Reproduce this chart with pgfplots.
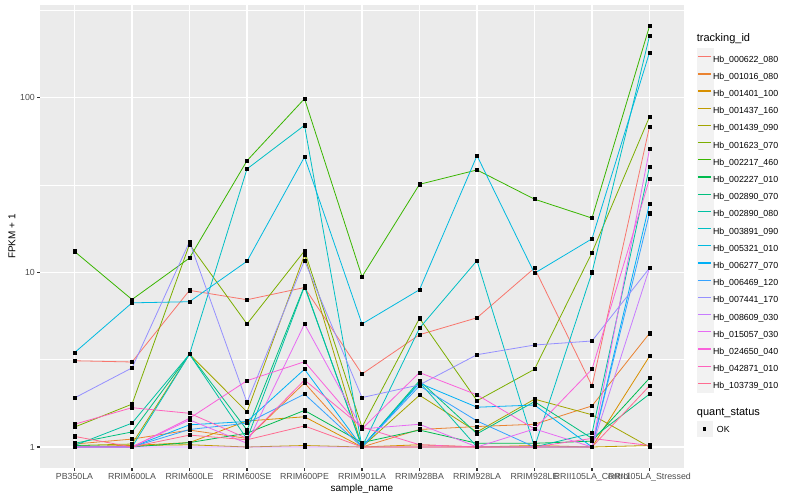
\documentclass[border=0pt]{standalone}
\usepackage{fontspec}
\setmainfont{Liberation Sans}
\usepackage{pgfplots}
\usepackage{pgfplotstable}
\pgfplotsset{compat=1.18}

% ggplot2 default hue palette, 20 levels
\definecolor{c01}{HTML}{F8766D}
\definecolor{c02}{HTML}{EA8331}
\definecolor{c03}{HTML}{D89000}
\definecolor{c04}{HTML}{C09B00}
\definecolor{c05}{HTML}{A3A500}
\definecolor{c06}{HTML}{7CAE00}
\definecolor{c07}{HTML}{39B600}
\definecolor{c08}{HTML}{00BB4E}
\definecolor{c09}{HTML}{00BF7D}
\definecolor{c10}{HTML}{00C1A3}
\definecolor{c11}{HTML}{00BFC4}
\definecolor{c12}{HTML}{00BAE0}
\definecolor{c13}{HTML}{00B0F6}
\definecolor{c14}{HTML}{35A2FF}
\definecolor{c15}{HTML}{9590FF}
\definecolor{c16}{HTML}{C77CFF}
\definecolor{c17}{HTML}{E76BF3}
\definecolor{c18}{HTML}{FA62DB}
\definecolor{c19}{HTML}{FF62BC}
\definecolor{c20}{HTML}{FF6C91}
\definecolor{panel}{HTML}{EBEBEB}
\definecolor{keybg}{HTML}{F2F2F2}
\definecolor{tickcol}{HTML}{333333}
\definecolor{labcol}{HTML}{4D4D4D}

\pgfplotsset{
  series/.style={color=#1, line width=0.8bp, mark=square*, mark size=1.6bp,
    mark options={fill=black, draw=black, solid}},
}

% FPKM + 1 per sample (rows) and tracking_id (columns s01..s20, legend order)
\pgfplotstableread{
idx s01 s02 s03 s04 s05 s06 s07 s08 s09 s10 s11 s12 s13 s14 s15 s16 s17 s18 s19 s20
0 3.12 1.04 1.00 1.00 1.02 1.30 13.2 1.02 1.05 1.02 1.00 3.47 1.00 1.00 1.91 1.00 1.00 1.00 1.35 1.15
1 3.07 1.11 1.02 1.02 1.04 1.76 7.00 1.00 1.22 1.37 1.00 6.70 1.00 1.00 2.84 1.00 1.00 1.00 1.68 1.00
2 7.90 1.25 1.06 1.03 3.40 14.5 12.1 1.06 3.40 3.40 3.40 6.80 1.34 1.26 15.0 1.00 1.43 1.46 1.56 1.17
3 6.98 1.12 1.41 1.00 1.59 5.07 43.7 1.20 1.25 1.11 39.2 11.6 1.40 1.37 1.80 1.00 1.05 2.40 1.12 1.10
4 8.20 2.33 1.49 1.02 12.6 13.3 99.0 1.62 8.40 8.30 69.7 45.9 2.79 2.01 11.7 1.00 5.07 3.08 2.42 1.32
5 2.62 1.00 1.00 1.00 1.00 1.30 9.46 1.06 1.00 1.00 1.00 5.07 1.00 1.00 1.92 1.00 1.27 1.27 1.30 1.00
6 4.40 1.26 1.03 1.00 1.98 5.46 32.0 1.25 2.40 2.35 4.80 7.97 2.32 2.24 2.27 1.00 1.35 2.67 1.03 1.00
7 5.50 1.31 1.00 1.00 1.22 1.84 38.7 1.05 1.19 1.00 11.7 46.7 1.69 1.41 3.38 1.00 1.00 1.99 1.00 1.00
8 10.6 1.35 1.02 1.00 1.88 2.79 26.3 1.05 1.82 1.00 1.00 9.90 1.74 1.00 3.84 1.00 1.27 1.27 1.00 1.00
9 2.24 1.72 1.00 1.00 1.53 13.0 20.5 1.08 1.12 1.20 10.0 15.6 1.00 1.00 4.05 1.00 1.00 2.79 1.12 1.00
10 68.5 4.48 3.31 1.02 1.00 78.0 258 2.48 2.01 40.4 226 182 24.8 21.8 10.6 10.6 50.8 34.3 1.02 2.24
}\fpkm

\begin{document}
\begin{tikzpicture}
\useasboundingbox (0,0) rectangle (800bp,500bp);
\begin{axis}[
  at={(40bp,32bp)}, anchor=south west,
  width=644bp, height=463bp, scale only axis,
  xmin=-0.6, xmax=10.6,
  ymode=log, log basis y=10, ymin=0.758, ymax=341,
  axis background/.style={fill=panel},
  axis line style={draw=none},
  grid=major, major grid style={white, line width=1.07bp},
  tick pos=left, tick align=outside, major tick length=2.75bp,
  tick style={tickcol, line width=1.07bp},
  xtick={0,...,10},
  xticklabels={PB350LA,RRIM600LA,RRIM600LE,RRIM600SE,RRIM600PE,RRIM901LA,RRIM928BA,RRIM928LA,RRIM928LE,RRII105LA\_Control,RRII105LA\_Stressed},
  ytick={1,10,100}, yticklabels={1,10,100},
  extra y ticks={3.1623,31.623,316.23}, extra y tick labels={},
  extra y tick style={major tick length=0pt, major grid style={white, line width=0.53bp}},
  ticklabel style={font=\fontsize{8.8bp}{10bp}\selectfont, text=labcol},
  xticklabel style={inner sep=0pt, yshift=-2.6bp},
  yticklabel style={inner sep=0pt, xshift=-2.2bp},
  xlabel={sample\_name}, ylabel={FPKM + 1},
  label style={font=\fontsize{11bp}{13bp}\selectfont},
  every axis x label/.style={at={(axis description cs:0.5,-0.0454)}, anchor=center},
  every axis y label/.style={at={(axis description cs:-0.0435,0.5)}, rotate=90, anchor=center},
  legend cell align=left,
  legend style={at={(1.0197,0.907)}, anchor=north west, draw=none, fill=none,
    inner sep=0pt, outer sep=0pt, row sep=0bp,
    font=\fontsize{8.8bp}{10bp}\selectfont,
    nodes={inner sep=0pt},
    /tikz/every even column/.append style={column sep=4bp}},
  legend image code/.code={
    \fill[keybg] (0bp,-5.4bp) rectangle (16bp,11.4bp);
    \draw[mark=none, line width=1.3bp, #1] (1.5bp,3bp) -- (14.5bp,3bp);
  },
]
\addplot[series=c01, forget plot] table[x=idx, y=s01] {\fpkm};
\addplot[series=c02, forget plot] table[x=idx, y=s02] {\fpkm};
\addplot[series=c03, forget plot] table[x=idx, y=s03] {\fpkm};
\addplot[series=c04, forget plot] table[x=idx, y=s04] {\fpkm};
\addplot[series=c05, forget plot] table[x=idx, y=s05] {\fpkm};
\addplot[series=c06, forget plot] table[x=idx, y=s06] {\fpkm};
\addplot[series=c07, forget plot] table[x=idx, y=s07] {\fpkm};
\addplot[series=c08, forget plot] table[x=idx, y=s08] {\fpkm};
\addplot[series=c09, forget plot] table[x=idx, y=s09] {\fpkm};
\addplot[series=c10, forget plot] table[x=idx, y=s10] {\fpkm};
\addplot[series=c11, forget plot] table[x=idx, y=s11] {\fpkm};
\addplot[series=c12, forget plot] table[x=idx, y=s12] {\fpkm};
\addplot[series=c13, forget plot] table[x=idx, y=s13] {\fpkm};
\addplot[series=c14, forget plot] table[x=idx, y=s14] {\fpkm};
\addplot[series=c15, forget plot] table[x=idx, y=s15] {\fpkm};
\addplot[series=c16, forget plot] table[x=idx, y=s16] {\fpkm};
\addplot[series=c17, forget plot] table[x=idx, y=s17] {\fpkm};
\addplot[series=c18, forget plot] table[x=idx, y=s18] {\fpkm};
\addplot[series=c19, forget plot] table[x=idx, y=s19] {\fpkm};
\addplot[series=c20, forget plot] table[x=idx, y=s20] {\fpkm};
\addlegendimage{color=c01}\addlegendentry{Hb\_000622\_080}
\addlegendimage{color=c02}\addlegendentry{Hb\_001016\_080}
\addlegendimage{color=c03}\addlegendentry{Hb\_001401\_100}
\addlegendimage{color=c04}\addlegendentry{Hb\_001437\_160}
\addlegendimage{color=c05}\addlegendentry{Hb\_001439\_090}
\addlegendimage{color=c06}\addlegendentry{Hb\_001623\_070}
\addlegendimage{color=c07}\addlegendentry{Hb\_002217\_460}
\addlegendimage{color=c08}\addlegendentry{Hb\_002227\_010}
\addlegendimage{color=c09}\addlegendentry{Hb\_002890\_070}
\addlegendimage{color=c10}\addlegendentry{Hb\_002890\_080}
\addlegendimage{color=c11}\addlegendentry{Hb\_003891\_090}
\addlegendimage{color=c12}\addlegendentry{Hb\_005321\_010}
\addlegendimage{color=c13}\addlegendentry{Hb\_006277\_070}
\addlegendimage{color=c14}\addlegendentry{Hb\_006469\_120}
\addlegendimage{color=c15}\addlegendentry{Hb\_007441\_170}
\addlegendimage{color=c16}\addlegendentry{Hb\_008609\_030}
\addlegendimage{color=c17}\addlegendentry{Hb\_015057\_030}
\addlegendimage{color=c18}\addlegendentry{Hb\_024650\_040}
\addlegendimage{color=c19}\addlegendentry{Hb\_042871\_010}
\addlegendimage{color=c20}\addlegendentry{Hb\_103739\_010}
\end{axis}
% legend titles and the quant_status key
\node[anchor=base west, inner sep=0pt, font=\fontsize{11bp}{13bp}\selectfont] at (696.7bp,458bp) {tracking\_id};
\node[anchor=base west, inner sep=0pt, font=\fontsize{11bp}{13bp}\selectfont] at (696.7bp,84bp) {quant\_status};
\fill[keybg] (696.7bp,62.6bp) rectangle (712.7bp,79.4bp);
\fill[black] (703bp,69.3bp) rectangle (706.4bp,72.7bp);
\node[anchor=base west, inner sep=0pt, font=\fontsize{8.8bp}{10bp}\selectfont] at (716.7bp,67.9bp) {OK};
\end{tikzpicture}
\end{document}
